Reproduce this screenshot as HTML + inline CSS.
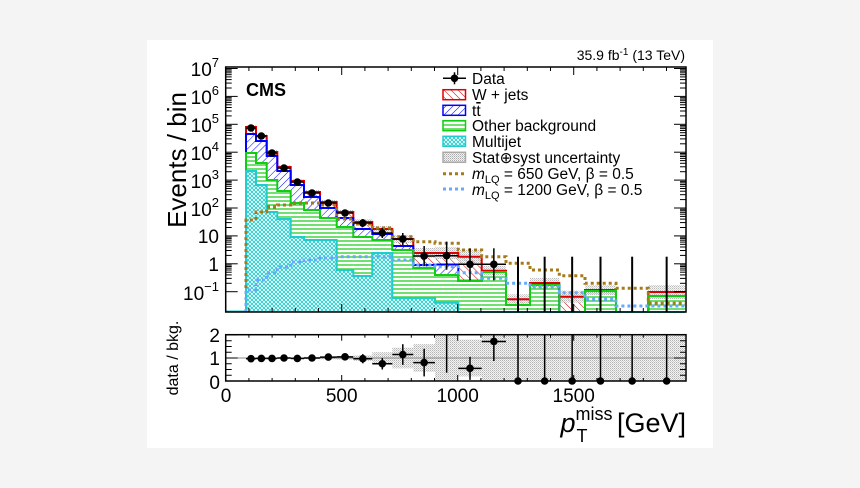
<!DOCTYPE html>
<html><head><meta charset="utf-8">
<style>
html,body{margin:0;padding:0;background:#f4f4f4;}
body{width:860px;height:488px;position:relative;overflow:hidden;font-family:"Liberation Sans",sans-serif;}
svg{position:absolute;left:0;top:0;}
text{font-family:"Liberation Sans",sans-serif;fill:#000;}
</style></head>
<body>
<svg id="s" width="860" height="488" viewBox="0 0 860 488" xmlns="http://www.w3.org/2000/svg">
<defs>
<pattern id="pr" width="5" height="5" patternUnits="userSpaceOnUse" patternTransform="rotate(-45)"><rect width="5" height="5" fill="#fff"/><line x1="0" y1="0" x2="0" y2="5" stroke="#d00" stroke-width="1"/></pattern>
<pattern id="pb" width="5" height="5" patternUnits="userSpaceOnUse" patternTransform="rotate(45)"><rect width="5" height="5" fill="#fff"/><line x1="0" y1="0" x2="0" y2="5" stroke="#00f" stroke-width="1"/></pattern>
<pattern id="pg" width="4" height="4" patternUnits="userSpaceOnUse"><rect width="4" height="4" fill="#fff"/><line x1="0" y1="1" x2="4" y2="1" stroke="#1c1" stroke-width="1.2"/></pattern>
<pattern id="pc" width="4" height="4" patternUnits="userSpaceOnUse"><rect width="4" height="4" fill="#fff"/><path d="M0 0L4 4M4 0L0 4" stroke="#2cc" stroke-width="0.9"/></pattern>
<pattern id="ps" width="2" height="2" patternUnits="userSpaceOnUse"><rect width="2" height="2" fill="#f2f2f2"/><rect width="1" height="1" fill="#aaa"/><rect x="1" y="1" width="1" height="1" fill="#ccc"/></pattern>
</defs>
<rect x="147" y="40" width="566" height="408" fill="#fff"/>
<g id="g"></g>
<text x="685" y="60" font-size="14" text-anchor="end">35.9 fb<tspan font-size="10" dy="-5">-1</tspan><tspan dy="5"> (13 TeV)</tspan></text>
<text x="246" y="96" font-size="18" font-weight="bold">CMS</text>
<text transform="translate(186,160) rotate(-90)" font-size="26" text-anchor="middle">Events / bin</text>
<g font-size="19" text-anchor="end">
<text x="219" y="76">10<tspan font-size="13" dy="-9">7</tspan></text>
<text x="219" y="104">10<tspan font-size="13" dy="-9">6</tspan></text>
<text x="219" y="132">10<tspan font-size="13" dy="-9">5</tspan></text>
<text x="219" y="160">10<tspan font-size="13" dy="-9">4</tspan></text>
<text x="219" y="188">10<tspan font-size="13" dy="-9">3</tspan></text>
<text x="219" y="216">10<tspan font-size="13" dy="-9">2</tspan></text>
<text x="219" y="243">10</text>
<text x="219" y="271">1</text>
<text x="219" y="300">10<tspan font-size="13" dy="-9">−1</tspan></text>
</g>
<g font-size="15.5">
<text x="472" y="84">Data</text>
<text x="472" y="100">W + jets</text>
<text x="472" y="116">t<tspan text-decoration="overline">t</tspan></text>
<text x="472" y="131">Other background</text>
<text x="472" y="147">Multijet</text>
<text x="472" y="163">Stat⊕syst uncertainty</text>
<text x="472" y="179"><tspan font-style="italic">m</tspan><tspan font-size="11" dy="4">LQ</tspan><tspan dy="-4"> = 650 GeV, β = 0.5</tspan></text>
<text x="472" y="195"><tspan font-style="italic">m</tspan><tspan font-size="11" dy="4">LQ</tspan><tspan dy="-4"> = 1200 GeV, β = 0.5</tspan></text>
</g>
<text transform="translate(178,358) rotate(-90)" font-size="16" text-anchor="middle">data / bkg.</text>
<g font-size="19" text-anchor="end">
<text x="220" y="342">2</text><text x="220" y="365">1</text><text x="220" y="389">0</text>
</g>
<g font-size="19" text-anchor="middle">
<text x="226" y="402">0</text><text x="341.7" y="402">500</text><text x="457.7" y="402">1000</text><text x="573.7" y="402">1500</text>
</g>
<text x="686" y="432" font-size="27" text-anchor="end"><tspan font-style="italic">p</tspan><tspan font-size="18" dy="-12">miss</tspan><tspan font-size="18" dx="-36" dy="22">T</tspan><tspan dx="22" dy="-10"> [GeV]</tspan></text>
</svg>
<script>
var NS="http://www.w3.org/2000/svg",G=document.getElementById("g");
function el(t,a){var e=document.createElementNS(NS,t);for(var k in a)e.setAttribute(k,a[k]);G.appendChild(e);return e;}
var E=[246,256,266.7,277.3,290.7,304,320,336.7,353.3,372.3,392.3,413.3,435,458.3,481.7,506,530,559.3,585,616,648.3,685];
var B=312,L=225.7,R=686,T=67;
var red=[127,136,152,167,181,192,202,212,222,229,239,253,253,256.7,270.7,299.3,283,296.7,290,312,292];
var blu=[134,141,156,171,185,197,208,218,229,234,246,265,264.5,280.7,272,305,285,312,291,312,296];
var grn=[153,163,180,191,203,210,218,227,237,240,250,268,275,280.7,272,305,285,312,291,312,296];
var cyn=[171,185,212,219,237,240,240,270,276,253,298,298,302.7,312,312,312,312,312,312,312,312];
var unc=[2,2,2,2,2,2,2,2,3,3,4,5,6,7,5,5,5,6,5,0,7];
var s650=[220,212,207,205,203,203,205,219,224,228,236.7,241.7,243.3,250,256.7,263.3,270,275.7,283.3,288.3,303.3];
var s1200=[290,280,273,267,262,260,258,256.7,256.7,256.7,260,265,266.7,272.7,278.3,283.3,286.7,292.7,299.3,306,306];
var dat=[128,136,153,168,182,193,203,213,223,233,239,256,255.7,264.3,264.3];
var n=21,i;
function fillStack(arr,pat){for(i=0;i<n;i++){if(arr[i]<B)el("rect",{x:E[i],y:arr[i],width:E[i+1]-E[i],height:B-arr[i],fill:"url(#"+pat+")"});}}
function step(arr,col,w,dash){var d="M"+E[0]+" "+B;for(i=0;i<n;i++){d+=" L"+E[i]+" "+arr[i]+" L"+E[i+1]+" "+arr[i];}var a={d:d,fill:"none",stroke:col,"stroke-width":w};if(dash)a["stroke-dasharray"]=dash;el("path",a);}
el("rect",{x:L,y:B-1.5,width:E[0]-L,height:1.5,fill:"#2cc"});
fillStack(red,"pr");fillStack(blu,"pb");fillStack(grn,"pg");fillStack(cyn,"pc");
for(i=0;i<n;i++){if(unc[i]>0)el("rect",{x:E[i],y:red[i]-unc[i],width:E[i+1]-E[i],height:2*unc[i],fill:"url(#ps)",opacity:0.8});}
step(red,"#d00",2);step(blu,"#00f",2);step(grn,"#1c1",2);step(cyn,"#2cc",2);
step(s650,"#a67a1a",3,"3,3");step(s1200,"#6af",3,"3,3");
var er=[1,1,1,1,2,2,2,3,4,5,6,10,14,16,16];
for(i=0;i<n;i++){var cx=(E[i]+E[i+1])/2;
 if(i<dat.length){var y=dat[i];el("line",{x1:E[i],x2:E[i+1],y1:y,y2:y,stroke:"#000","stroke-width":1.5});el("line",{x1:cx,x2:cx,y1:y-er[i],y2:y+er[i],stroke:"#000","stroke-width":1.5});el("circle",{cx:cx,cy:y,r:3.8,fill:"#000"});}
 else el("line",{x1:cx,x2:cx,y1:256.7,y2:B,stroke:"#000","stroke-width":2});}
el("rect",{x:L,y:T,width:R-L,height:B-T,fill:"none",stroke:"#000","stroke-width":1.5});
var sc=116/500;
function yl(v){return 291.7-27.9*(Math.log10(v)+1);}
for(var k=-1;k<=7;k++){for(var m=1;m<10;m++){var y=yl(m*Math.pow(10,k));if(y>B||y<T)continue;var len=m==1?12:6;el("line",{x1:L,x2:L+len,y1:y,y2:y,stroke:"#000"});el("line",{x1:R,x2:R-len,y1:y,y2:y,stroke:"#000"});}}
for(var x=0;x<=1950;x+=100){var px=L+x*sc;var len=x%500==0?8:4;el("line",{x1:px,x2:px,y1:B,y2:B-len,stroke:"#000"});el("line",{x1:px,x2:px,y1:T,y2:T+len,stroke:"#000"});}
var ly=[78.3,94.7,110.3,125.7,141.3,157.3,173.7,189],lp=["pr","pb","pg","pc","ps"],lc=["#d00","#00f","#1c1","#2cc","#aaa"];
el("line",{x1:443,x2:466,y1:ly[0],y2:ly[0],stroke:"#000","stroke-width":1.5});el("line",{x1:454.5,x2:454.5,y1:ly[0]-6,y2:ly[0]+6,stroke:"#000","stroke-width":1.5});el("circle",{cx:454.5,cy:ly[0],r:3.8,fill:"#000"});
for(i=0;i<5;i++)el("rect",{x:443,y:ly[i+1]-5,width:22.5,height:10,fill:"url(#"+lp[i]+")",stroke:lc[i],"stroke-width":1.5});
el("line",{x1:443,x2:466,y1:ly[6],y2:ly[6],stroke:"#a67a1a","stroke-width":3,"stroke-dasharray":"3,3"});
el("line",{x1:443,x2:466,y1:ly[7],y2:ly[7],stroke:"#6af","stroke-width":3,"stroke-dasharray":"3,3"});
var RT=334.7,RB=381;function ry(v){return RB-23*v;}
var rb=[.04,.04,.04,.04,.04,.05,.06,.08,.12,.25,.45,.6,1,.8,1,1,1,1,1,1,1];
for(i=0;i<n;i++){var lo=Math.max(0,1-rb[i]),hi=Math.min(2,1+rb[i]);el("rect",{x:E[i],y:ry(hi),width:E[i+1]-E[i],height:ry(lo)-ry(hi),fill:"url(#ps)",opacity:0.9});}
el("line",{x1:L,x2:R,y1:ry(1),y2:ry(1),stroke:"#888","stroke-width":1});
var rv=[.97,.98,.98,1,.98,1,1.04,1.05,.97,.75,1.15,.8,null,.55,1.72,0,0,0,0,0,0];
var re=[.04,.04,.04,.04,.05,.06,.1,.12,.2,.25,.45,.6,0,.5,.85,2,2,2,2,2,2];
for(i=0;i<n;i++){var cx=(E[i]+E[i+1])/2;
 if(rv[i]===null){el("line",{x1:cx,x2:cx,y1:RT,y2:372.7,stroke:"#000","stroke-width":1.5});continue;}
 var y=ry(rv[i]);
 if(i<15)el("line",{x1:E[i],x2:E[i+1],y1:y,y2:y,stroke:"#000","stroke-width":1.5});
 el("line",{x1:cx,x2:cx,y1:Math.max(RT,ry(rv[i]+re[i])),y2:Math.min(RB,ry(rv[i]-re[i])),stroke:"#000","stroke-width":1.5});
 el("circle",{cx:cx,cy:y,r:3.8,fill:"#000"});}
el("rect",{x:L,y:RT,width:R-L,height:RB-RT,fill:"none",stroke:"#000","stroke-width":1.5});
for(var v=0;v<=2;v+=0.25){var y=ry(v);var len=(v%1==0)?12:6;el("line",{x1:L,x2:L+len,y1:y,y2:y,stroke:"#000"});el("line",{x1:R,x2:R-len,y1:y,y2:y,stroke:"#000"});}
for(var x=0;x<=1950;x+=100){var px=L+x*sc;var len=x%500==0?6:3;el("line",{x1:px,x2:px,y1:RB,y2:RB-len,stroke:"#000"});el("line",{x1:px,x2:px,y1:RT,y2:RT+len,stroke:"#000"});}
</script>
</body></html>
